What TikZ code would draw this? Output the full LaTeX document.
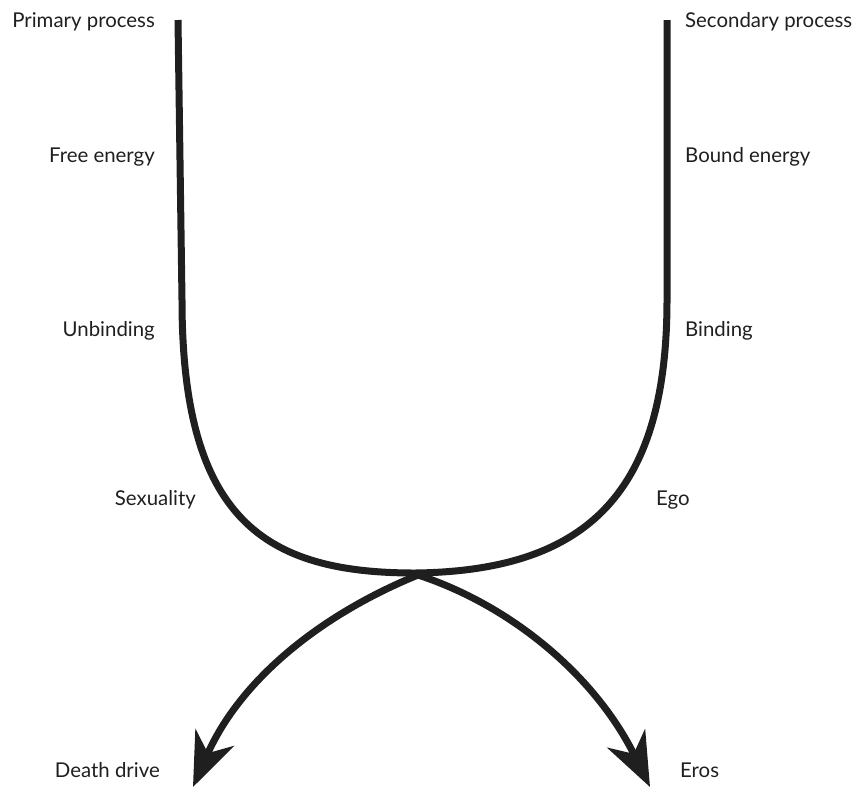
\documentclass[tikz,border=0pt]{standalone}
\usepackage{fontspec}
\setmainfont{Lato}
\usetikzlibrary{arrows.meta}
\begin{document}
\begin{tikzpicture}[x=1pt,y=-1pt,
  lbl/.style={inner sep=0pt,font=\fontsize{20.4}{24}\selectfont,text=black!88},
  thick line/.style={line width=7pt,draw=black!88},
  arr/.style={thick line,-{Stealth[length=54pt,width=42pt,inset=17pt]}}]
\useasboundingbox (0,0) rectangle (856,788);
% labels
\node[lbl,anchor=base east] (pp) at (155,27) {Primary process};
\node[lbl,anchor=base east] (fe) at (155,162) {Free energy};
\node[lbl,anchor=base east] (ub) at (155,336) {Unbinding};
\node[lbl,anchor=base east] (sx) at (196,505) {Sexuality};
\node[lbl,anchor=base east] (dd) at (160,777) {Death drive};
\node[lbl,anchor=base west] (sp) at (685,27) {Secondary process};
\node[lbl,anchor=base west] (be) at (685,162) {Bound energy};
\node[lbl,anchor=base west] (bi) at (685,336) {Binding};
\node[lbl,anchor=base west] (eg) at (656,505) {Ego};
\node[lbl,anchor=base west] (er) at (680,777) {Eros};
% coordinates
\coordinate (lt) at (178,20);
\coordinate (lb) at (182,300);
\coordinate (rt) at (667,20);
\coordinate (rb) at (667,300);
\coordinate (m) at (415,573);
\coordinate (x) at (418,575);
\coordinate (dtip) at (193,787);
\coordinate (etip) at (650,787);
% U curve
\draw[thick line] (lt) -- (lb) .. controls (182,520) and (265,573) .. (m)
  .. controls (590,571) and (667,490) .. (rb) -- (rt);
% arrows
\draw[arr] (x) .. controls (320,615) and (240,680) .. (dtip);
\draw[arr] (x) .. controls (510,605) and (595,675) .. (etip);
\end{tikzpicture}
\end{document}
